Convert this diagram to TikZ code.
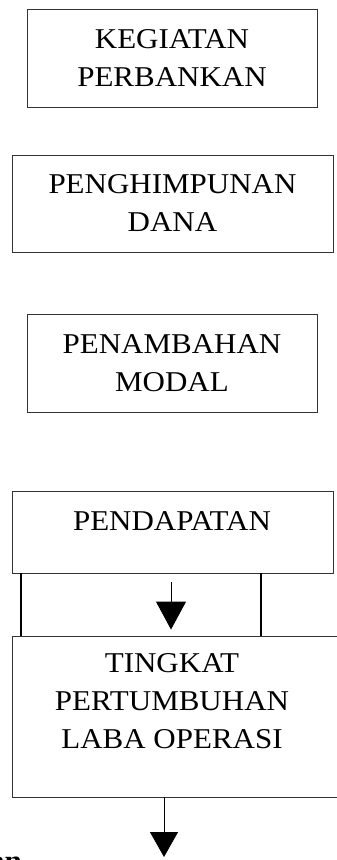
\documentclass[tikz,border=0pt]{standalone}
\usepackage{fontspec}
\setmainfont{Liberation Serif}[FakeStretch=1.08]
\usetikzlibrary{arrows.meta}
\begin{document}
\begin{tikzpicture}[x=1pt,y=-1pt,
  box/.style={draw=black!80, line width=0.9pt, inner sep=0pt},
  lbl/.style={font=\fontsize{28.7}{38}\selectfont, align=center, inner sep=0pt},
  post/.style={line width=2.2pt, black},
  arrA/.style={line width=0.9pt, -{Triangle[width=30pt,length=28pt]}},
  arrB/.style={line width=0.9pt, -{Triangle[width=28pt,length=25pt]}}]
\useasboundingbox (0,0) rectangle (337,860);
\clip (0,0) rectangle (337,860);
\fill[white] (0,0) rectangle (337,860);
% boxes
\node[box, lbl, minimum width=290pt, minimum height=98pt] (b1) at (172,58) {KEGIATAN\\PERBANKAN};
\node[box, lbl, minimum width=321pt, minimum height=97pt] (b2) at (172.5,203.5) {PENGHIMPUNAN\\DANA};
\node[box, lbl, minimum width=290pt, minimum height=98pt] (b3) at (172,363) {PENAMBAHAN\\MODAL};
\node[box, minimum width=321pt, minimum height=82pt] (b4) at (172.5,532) {};
\node[lbl] (t4) at (172,521.5) {PENDAPATAN};
\node[box, minimum width=340pt, minimum height=161pt] (b5) at (182,716.5) {};
\node[lbl] (t5) at (172,701) {TINGKAT\\PERTUMBUHAN\\LABA OPERASI};
% posts between PENDAPATAN and TINGKAT
\coordinate (lx) at (21,0);
\coordinate (rx) at (261,0);
\draw[post] (b4.south -| lx) -- (b5.north -| lx);
\draw[post] (b4.south -| rx) -- (b5.north -| rx);
% arrows
\coordinate (a1) at (171,582);
\draw[arrA, shorten >=6pt] (a1) -- (b5.north -| a1);
\coordinate (a2) at (164,857);
\draw[arrB] (b5.south -| a2) -- (a2);
% clipped text at bottom-left
\node[anchor=base east, inner sep=0pt, font=\fontsize{28.7}{34}\selectfont\bfseries] (frag) at (22,870) {an};
\end{tikzpicture}
\end{document}
